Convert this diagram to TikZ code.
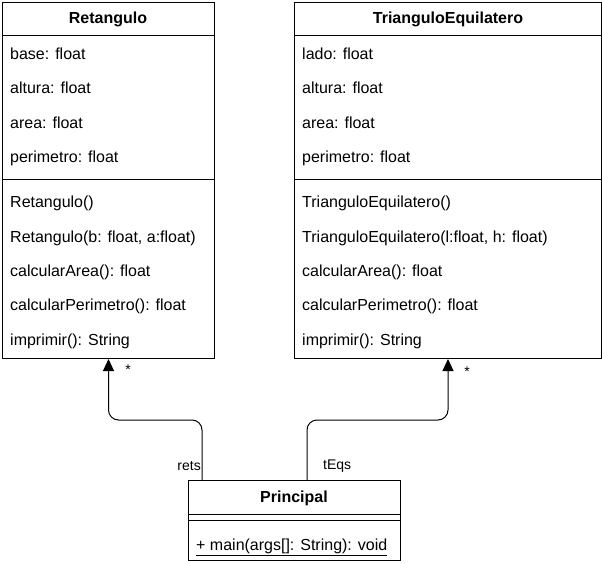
\documentclass[tikz,border=0pt]{standalone}
\usepackage{fontspec}
\setmainfont{Liberation Sans}
\usetikzlibrary{positioning,arrows.meta,calc}

\begin{document}
\begin{tikzpicture}[
  x=1pt, y=-1pt,
  every node/.style={font=\fontsize{16}{19}\selectfont, inner sep=0pt},
  classbox/.style={draw, line width=1pt, anchor=north west},
  title/.style={font=\fontsize{16}{19}\selectfont\bfseries},
  member/.style={anchor=west},
  edgelbl/.style={font=\fontsize{14}{17}\selectfont},
  assoc/.style={line width=1pt, rounded corners=10pt,
                -{Triangle[length=12pt,width=11pt]}}
]
% Scale: 1pt = 1px of the sketch (y grows downwards)
\useasboundingbox (0,0) rectangle (602,564);

%% --- Class Retangulo -----------------------------------------
\node[classbox, minimum width=212pt, minimum height=356pt] (ret) at (2,2) {};
\node[title] (retT) at (108,19) {Retangulo};
\draw[line width=1pt] (2,36) -- (214,36);
\draw[line width=1pt] (2,180) -- (214,180);
\foreach \y/\txt in {54/{base: float}, 88/{altura: float},
                     123/{area: float}, 158/{perimetro: float},
                     203/{Retangulo()}, 238/{Retangulo(b: float, a:float)},
                     272/{calcularArea(): float},
                     306/{calcularPerimetro(): float},
                     341/{imprimir(): String}}{
  \node[member] at (10,\y) {\txt};
}

%% --- Class TrianguloEquilatero -------------------------------
\node[classbox, minimum width=307pt, minimum height=356pt] (tri) at (294,2) {};
\node[title] (triT) at (448,19) {TrianguloEquilatero};
\draw[line width=1pt] (294,36) -- (601,36);
\draw[line width=1pt] (294,180) -- (601,180);
\foreach \y/\txt in {54/{lado: float}, 88/{altura: float},
                     123/{area: float}, 158/{perimetro: float},
                     203/{TrianguloEquilatero()},
                     238/{TrianguloEquilatero(l:float, h: float)},
                     272/{calcularArea(): float},
                     306/{calcularPerimetro(): float},
                     341/{imprimir(): String}}{
  \node[member] at (302,\y) {\txt};
}

%% --- Class Principal -----------------------------------------
\node[classbox, minimum width=212pt, minimum height=80pt] (princ) at (188,480) {};
\node[title] (princT) at (294,498) {Principal};
\draw[line width=1pt] (188,514) -- (400,514);
\draw[line width=1pt] (188,520) -- (400,520);
\node[member] (princM) at (196,547) {\underline{+ main(args[]: String): void}};

%% --- Associations --------------------------------------------
\coordinate (retsStart) at ($(princ.north west)+(14,0)$);
\coordinate (tEqsStart) at ($(princ.north west)+(119,0)$);
\draw[assoc] (retsStart) -- (retsStart |- 0,420) -- (ret.south |- 0,420) -- (ret.south);
\draw[assoc] (tEqsStart) -- (tEqsStart |- 0,420) -- (tri.south |- 0,420) -- (tri.south);

%% --- Role labels and multiplicities --------------------------
\node[edgelbl, anchor=east] (retsLbl) at (201,466) {rets};
\node[edgelbl, anchor=west] (tEqsLbl) at (323,466) {tEqs};
\node[edgelbl] (retsMul) at (128,370) {*};
\node[edgelbl] (tEqsMul) at (467,372) {*};

\end{tikzpicture}
\end{document}
